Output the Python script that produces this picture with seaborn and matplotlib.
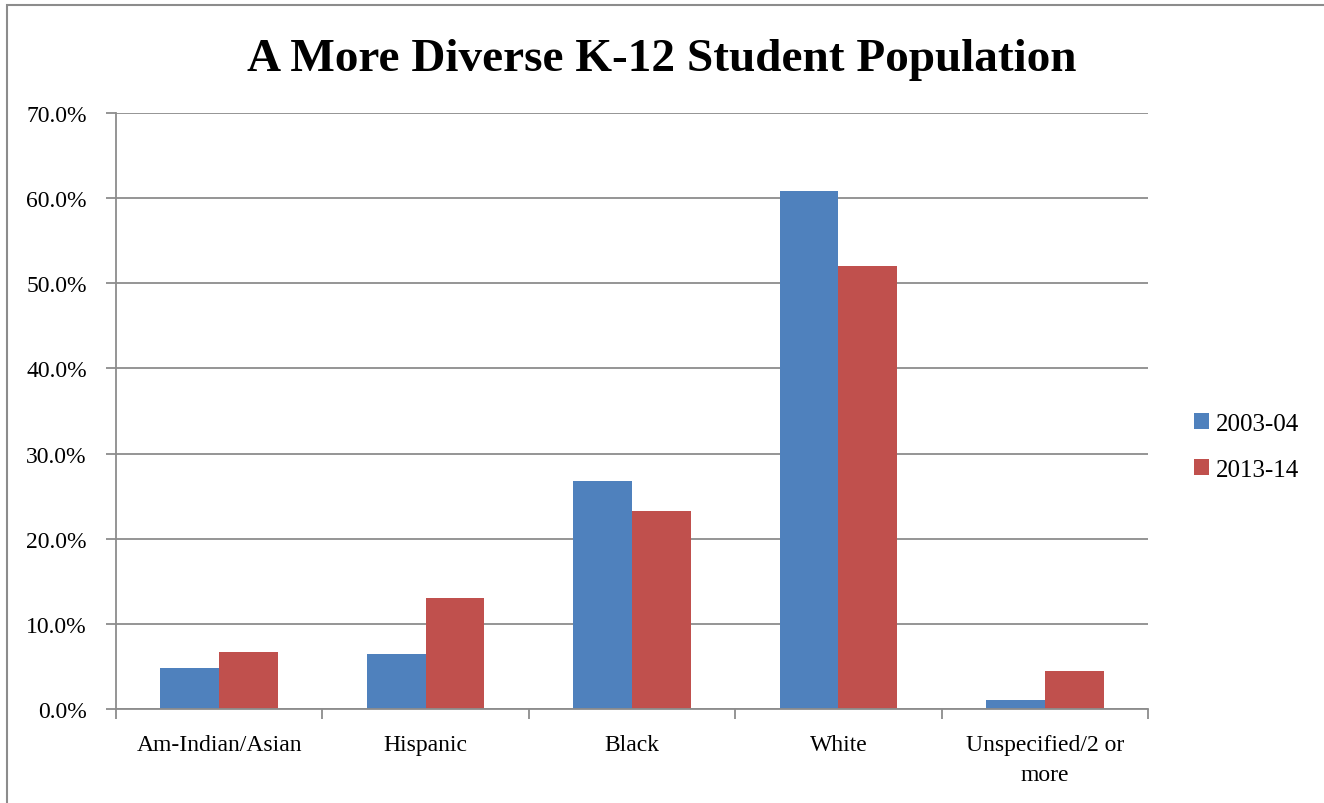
import pandas as pd
import matplotlib.pyplot as plt
import seaborn as sns
from matplotlib.ticker import FuncFormatter, FixedLocator

# data (percent of K-12 students)
groups = ["Am-Indian/Asian", "Hispanic", "Black", "White", "Unspecified/2 or\nmore"]
years = ["2003-04", "2013-14"]
share_2003 = [4.8, 6.5, 26.8, 60.8, 1.0]
share_2013 = [6.7, 13.0, 23.3, 52.0, 4.5]
colors = ["#4F81BD", "#C0504D"]

df = pd.DataFrame({
    "group": groups * 2,
    "year": [years[0]] * 5 + [years[1]] * 5,
    "share": share_2003 + share_2013,
})

sns.set_style("white")
plt.rcParams['font.family'] = ['Liberation Serif', 'DejaVu Serif']
plt.rcParams['text.color'] = 'black'
plt.rcParams['xtick.color'] = 'black'
plt.rcParams['ytick.color'] = 'black'

fig = plt.figure(figsize=(13.24, 8.04), dpi=100)
ax = fig.add_axes([116 / 1324, 1 - 710 / 804, (1148 - 116) / 1324, (710 - 114) / 804])

sns.barplot(data=df, x="group", y="share", hue="year", palette=colors,
            width=0.57, saturation=1, linewidth=0, ax=ax, legend=True)

ax.set_ylim(0, 70)
ax.set_xlim(-0.5, 4.5)
ax.set_yticks(range(0, 71, 10))
ax.yaxis.set_major_formatter(FuncFormatter(lambda v, p: f"{v:.1f}%"))
ax.yaxis.grid(True, color="#8C8C8C", linewidth=1.3)
ax.set_axisbelow(True)
ax.set_xlabel("")
ax.set_ylabel("")

for s in ["top", "right"]:
    ax.spines[s].set_visible(False)
for s in ["left", "bottom"]:
    ax.spines[s].set_color("#8C8C8C")
    ax.spines[s].set_linewidth(1.3)

ax.tick_params(axis="y", left=True, length=7, width=1.3, color="#8C8C8C",
               labelsize=17, pad=14)
ax.tick_params(axis="x", which="major", length=0, labelsize=17, pad=18)
ax.xaxis.set_minor_locator(FixedLocator([-0.5, 0.5, 1.5, 2.5, 3.5, 4.5]))
ax.tick_params(axis="x", which="minor", bottom=True, length=7, width=1.3, color="#8C8C8C")
for lbl in ax.get_xticklabels():
    lbl.set_linespacing(1.55)

# title is centred on the whole chart area, not the plot
fig.text(0.5, 1 - 60 / 804, "A More Diverse K-12 Student Population", fontsize=34,
         fontweight="bold", color="black", ha="center", va="center")

leg = ax.legend(loc="center left", bbox_to_anchor=(1.023, 0.44), frameon=False,
                fontsize=18, handlelength=0.6, handleheight=0.6, handletextpad=0.25,
                labelspacing=0.95)

# outer chart frame
fig.add_artist(plt.Rectangle((7 / 1324, -0.05), 1.1, 1 - 6 / 804 + 0.05,
                             transform=fig.transFigure, fill=False,
                             edgecolor="#8C8C8C", linewidth=1.5))

fig.savefig("out.png", dpi=100)
